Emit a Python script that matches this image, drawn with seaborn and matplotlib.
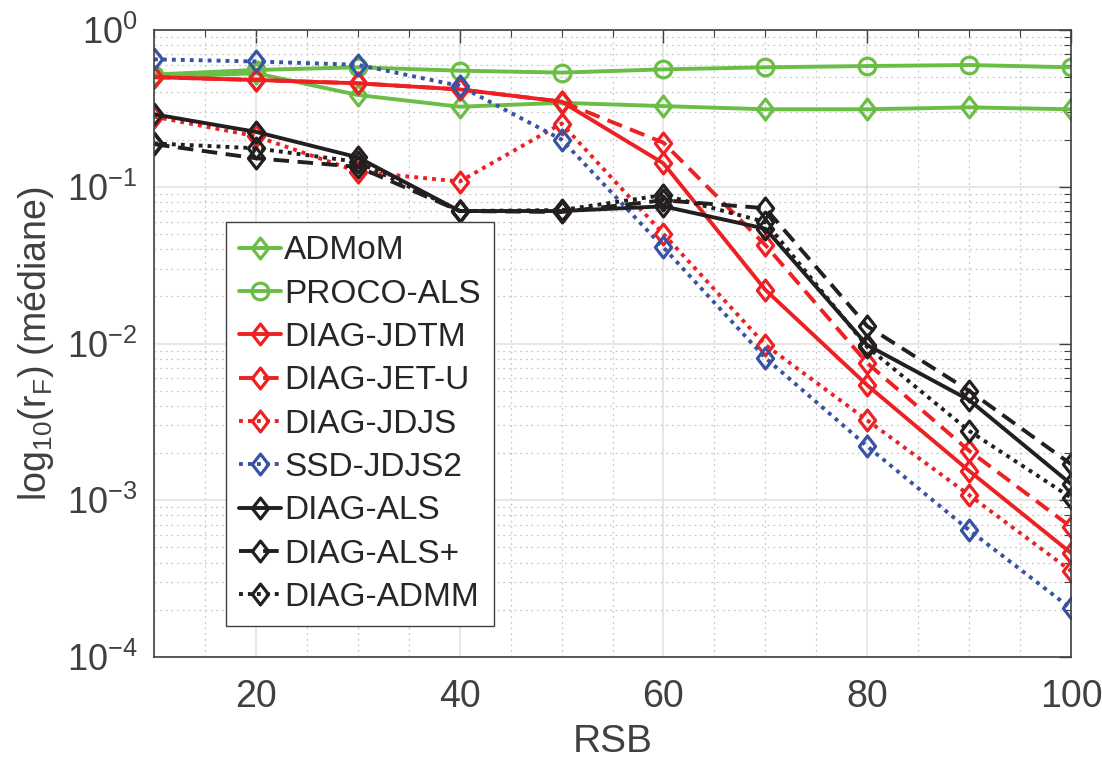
import numpy as np
import pandas as pd
import matplotlib
matplotlib.use("Agg")
import matplotlib.pyplot as plt
import seaborn as sns
from matplotlib.path import Path
from matplotlib.ticker import LogLocator, MultipleLocator, NullFormatter

sns.set_style('whitegrid')
plt.rcParams['font.family'] = ['Liberation Sans', 'DejaVu Sans']
plt.rcParams['mathtext.fontset'] = 'custom'
plt.rcParams['mathtext.rm'] = 'Liberation Sans'
plt.rcParams['mathtext.it'] = 'Liberation Sans'

# RSB (dB)
rsb = [10, 20, 30, 40, 50, 60, 70, 80, 90, 100]

# médiane de r_F
admom = [0.50, 0.53, 0.385, 0.324, 0.343, 0.327, 0.312, 0.312, 0.321, 0.312]
proco_als = [0.52, 0.556, 0.578, 0.55, 0.535, 0.561, 0.578, 0.589, 0.598, 0.578]
diag_jdtm = [0.50, 0.48, 0.457, 0.418, 0.349, 0.141, 0.022, 0.00542, 0.00154, 0.000461]
diag_jet_u = [0.50, 0.48, 0.457, 0.418, 0.349, 0.191, 0.0425, 0.0075, 0.00207, 0.000676]
diag_jdjs = [0.28, 0.21, 0.125, 0.108, 0.253, 0.050, 0.0098, 0.00324, 0.00108, 0.000354]
ssd_jdjs2 = [0.65, 0.63, 0.60, 0.44, 0.20, 0.041, 0.0081, 0.00221, 0.000645, 0.000204]
diag_als = [0.29, 0.224, 0.154, 0.070, 0.070, 0.075, 0.054, 0.00977, 0.00436, 0.00127]
diag_als_plus = [0.187, 0.152, 0.134, 0.070, 0.069, 0.082, 0.073, 0.0129, 0.00499, 0.0017]
diag_admm = [0.189, 0.176, 0.144, 0.070, 0.071, 0.0885, 0.0596, 0.0095, 0.00277, 0.00104]

green = '#6abd45'
red = '#ed2024'
blue = '#3953a4'
black = '#231f20'

# losange type MATLAB (un peu plus haut que large)
losange = Path([(0, 1), (0.78, 0), (0, -1), (-0.78, 0), (0, 1)],
               [Path.MOVETO, Path.LINETO, Path.LINETO, Path.LINETO, Path.CLOSEPOLY])

tirets = (0, (4, 2.2))
points = (0, (1, 1.3))

series = [
    ('ADMoM', admom, green, '-', losange),
    ('PROCO-ALS', proco_als, green, '-', 'o'),
    ('DIAG-JDTM', diag_jdtm, red, '-', losange),
    ('DIAG-JET-U', diag_jet_u, red, tirets, losange),
    ('DIAG-JDJS', diag_jdjs, red, points, losange),
    ('SSD-JDJS2', ssd_jdjs2, blue, points, losange),
    ('DIAG-ALS', diag_als, black, '-', losange),
    ('DIAG-ALS+', diag_als_plus, black, tirets, losange),
    ('DIAG-ADMM', diag_admm, black, points, losange),
]

fig = plt.figure(figsize=(11.02, 7.62), dpi=100)
ax = fig.add_axes([154 / 1102, 105 / 762, 917 / 1102, 627 / 762])

for name, vals, col, ls, mk in series:
    df = pd.DataFrame({'RSB': rsb, 'rF': vals})
    ms = 12 if mk == 'o' else 15
    sns.lineplot(data=df, x='RSB', y='rF', ax=ax, color=col, linestyle=ls,
                 linewidth=2.8, marker=mk, markersize=ms, markerfacecolor='none',
                 markeredgecolor=col, markeredgewidth=2.3, label=name)

ax.set_yscale('log')
ax.set_xlim(10, 100)
ax.set_ylim(1e-4, 1)
ax.xaxis.set_major_locator(MultipleLocator(20))
ax.xaxis.set_minor_locator(MultipleLocator(5))
ax.yaxis.set_major_locator(LogLocator(base=10, numticks=10))
ax.yaxis.set_minor_locator(LogLocator(base=10, subs=np.arange(2, 10), numticks=20))
ax.yaxis.set_minor_formatter(NullFormatter())

ax.grid(True, which='major', color='#e3e3e3', linestyle='-', linewidth=1.2)
ax.grid(True, which='minor', color='#c8c8c8', linestyle=(0, (1.5, 3)), linewidth=0.9)
ax.set_axisbelow(True)

txt = '#404040'
ax.tick_params(which='both', direction='in', top=True, right=True, colors='#404040',
               labelcolor=txt, labelsize=26, pad=12)
ax.tick_params(which='major', length=9, width=1)
ax.tick_params(which='minor', length=5, width=0.8)
ax.tick_params(axis='x', labelsize=27, pad=16)
ax.set_xticks([20, 40, 60, 80, 100])

for s in ax.spines.values():
    s.set_color('#404040')
    s.set_linewidth(1.2)

ax.set_xlabel('RSB', fontsize=28, color=txt, labelpad=6)
ax.set_ylabel('log$_{10}$(r$_{\\mathrm{F}}$) (médiane)', fontsize=27, color=txt, labelpad=8)

leg = ax.legend(loc='upper left', bbox_to_anchor=(72 / 917, 435 / 627), fontsize=24,
                frameon=True, fancybox=False, framealpha=1, edgecolor='#404040',
                handlelength=1.25, handletextpad=0.1, labelspacing=0.37,
                borderpad=0.4, borderaxespad=0)
leg.get_frame().set_linewidth(1.0)
for t in leg.get_texts():
    t.set_color('#262626')

fig.savefig('out.png', dpi=100)
